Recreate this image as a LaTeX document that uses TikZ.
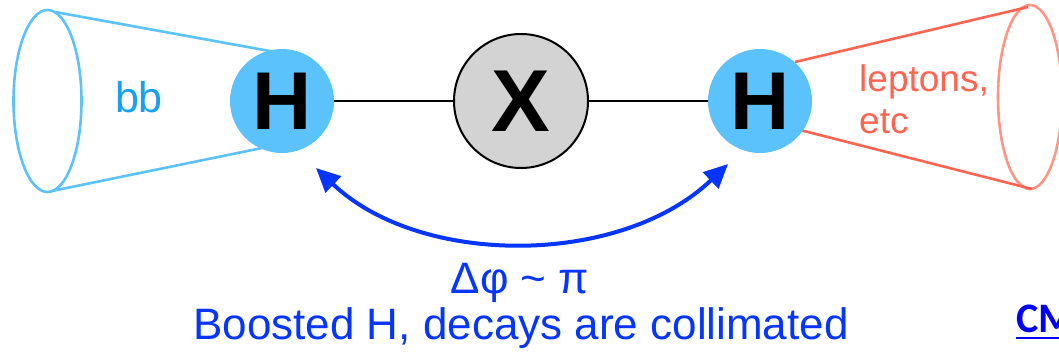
\documentclass[tikz,border=0pt]{standalone}
\usepackage{fontspec}
\setmainfont{Liberation Sans}
\newfontfamily\calfont{Carlito}
\usetikzlibrary{arrows.meta}
\definecolor{hblue}{HTML}{5BC2FC}
\definecolor{bbtext}{HTML}{18A0F2}
\definecolor{conered}{HTML}{FF6450}
\definecolor{conepink}{HTML}{FF9585}
\definecolor{arrblue}{HTML}{0535FF}
\definecolor{cmblue}{HTML}{0000FF}
\definecolor{xgray}{HTML}{D3D3D3}
\tikzset{
  higgs/.style={circle, fill=hblue, minimum size=104pt, inner sep=0pt, font=\fontsize{82}{82}\selectfont\bfseries},
  xnode/.style={circle, fill=xgray, draw=black, line width=2pt, minimum size=134pt, inner sep=0pt, font=\fontsize{88}{88}\selectfont\bfseries},
  link/.style={black, line width=1.8pt},
  bluecone/.style={hblue, line width=2.6pt},
  redcone/.style={conered, line width=2.6pt},
  dphi/.style={arrblue, line width=4pt, {Triangle[length=24pt,width=22pt]}-{Triangle[length=24pt,width=22pt]}},
  lbl/.style={inner sep=0pt},
  bottomtext/.style={inner sep=0pt, text=arrblue, font=\fontsize{44}{48}\selectfont}
}
\begin{document}
\begin{tikzpicture}[x=1pt,y=-1pt]
\useasboundingbox (0,0) rectangle (1059,359);
\clip (0,0) rectangle (1059,359);
% left cone
\draw[bluecone] (47.5,101) ellipse [x radius=34, y radius=91];
\coordinate (lt) at (55,12);
\coordinate (lb) at (52,191);
\coordinate (lht) at (275,52);
\coordinate (lhb) at (262,148);
\draw[bluecone] (lt) -- (lht);
\draw[bluecone] (lb) -- (lhb);
% right cone
\draw[conepink, line width=2.6pt] (1030,97) ellipse [x radius=32, y radius=92];
\coordinate (rt) at (1028,7);
\coordinate (rb) at (1032,189);
\coordinate (rht) at (795,62);
\coordinate (rhb) at (800,130);
\draw[redcone] (rht) -- (rt);
\draw[redcone] (rhb) -- (rb);
% nodes
\node[higgs] (hL) at (282,101) {H};
\node[xnode] (X) at (521,101) {X};
\node[higgs] (hR) at (760,101) {H};
\draw[link] (hL) -- (X);
\draw[link] (X) -- (hR);
% labels
\node[lbl, text=bbtext, font=\fontsize{43}{43}\selectfont] (bb) at (139,97) {bb};
\node[lbl, text=conered, align=left, anchor=west, font=\fontsize{37}{42}\selectfont] (lep) at (859,99) {leptons,\\etc};
% arrow
\coordinate (aL) at (316,168);
\coordinate (aR) at (728,164);
\draw[dphi] (aL) .. controls (420,267) and (620,267) .. (aR);
\node[bottomtext] (dp) at (520,283) {Δφ \textasciitilde{} π};
\node[bottomtext] (bt) at (521,328) {Boosted H, decays are collimated};
\node[inner sep=0pt, anchor=base west, text=cmblue, font=\calfont\fontsize{42}{42}\selectfont\bfseries] (cm) at (1016,332) {CMS};
\draw[cmblue, line width=2.2pt] (1016,338) -- (1100,338);
\end{tikzpicture}
\end{document}
